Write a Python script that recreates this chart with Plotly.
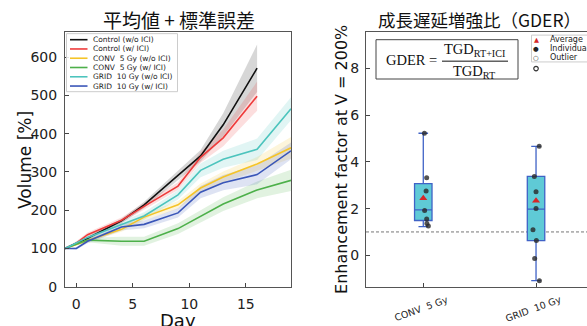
import plotly.graph_objects as go

W, H = 587, 326

# ---------------- data: left panel (mean volume + SE) ----------------
names = ["Control (w/o ICI)", "Control (w/ ICI)", "CONV  5 Gy (w/o ICI)",
         "CONV  5 Gy (w/ ICI)", "GRID  10 Gy (w/o ICI)", "GRID  10 Gy (w/ ICI)"]
colors = ["#111111", "#ee3b3b", "#f5c428", "#4db04a", "#4cc4bd", "#3a56b8"]

days_ctrl = [-1, 1, 4, 6, 9, 11, 13, 16]
vol_ctrl = [100, 127, 172, 214, 291, 342, 423, 571]
se_ctrl = [0, 4, 6, 8, 12, 15, 30, 62]

days_ctrl_ici = [-1, 0, 1, 4, 6, 9, 11, 13, 16]
vol_ctrl_ici = [100, 114, 136, 174, 210, 263, 338, 389, 498]
se_ctrl_ici = [0, 5, 6, 7, 8, 10, 14, 22, 38]

days_conv = [-1, 1, 4, 6, 9, 11, 13, 16, 19]
vol_conv = [100, 121, 150, 182, 214, 258, 287, 321, 363]
se_conv = [0, 4, 6, 8, 10, 12, 14, 18, 28]

days_conv_ici = [-1, 1, 4, 6, 9, 11, 13, 16, 19]
vol_conv_ici = [100, 122, 119, 119, 152, 185, 216, 253, 278]
se_conv_ici = [0, 6, 12, 12, 14, 16, 18, 22, 28]

days_grid = [-1, 1, 4, 6, 9, 11, 13, 16, 19]
vol_grid = [100, 129, 163, 185, 240, 304, 333, 359, 465]
se_grid = [0, 6, 8, 10, 12, 18, 22, 28, 30]

days_grid_ici = [-1, 0, 1, 4, 6, 9, 11, 13, 16, 19]
vol_grid_ici = [100, 100, 119, 156, 163, 193, 247, 272, 293, 355]
se_grid_ici = [0, 3, 5, 9, 10, 12, 16, 20, 25, 22]

left_x_ticks = [0, 5, 10, 15]
left_y_ticks = [0, 100, 200, 300, 400, 500, 600]

# ---------------- data: right panel (GDER box plot) ----------------
gder_cats = ["CONV  5 Gy", "GRID  10 Gy"]
conv_points = [5.23, 3.32, 2.75, 1.92, 1.56, 1.36, 1.26]
grid_points = [4.67, 3.38, 2.72, 2.00, 1.09, 0.63, -0.14, -1.09]
grid_outliers = [8.0]
box_q1 = [1.49, 0.63]
box_med = [1.95, 1.98]
box_q3 = [3.07, 3.38]
box_lo = [1.23, -1.09]
box_hi = [5.23, 4.67]
box_mean = [2.44, 2.34]
conv_jitter = [0.01, 0.03, 0.025, 0.012, 0.03, 0.032, 0.045]
grid_jitter = [0.028, -0.015, 0.0, 0.0, -0.027, 0.003, -0.012, 0.03]
right_y_ticks = [0, 2, 4, 6, 8]
ref_level = 1.0


def px(x):
    return x / W


def py(y):
    return 1 - y / H


series = [
    (days_ctrl, vol_ctrl, se_ctrl),
    (days_ctrl_ici, vol_ctrl_ici, se_ctrl_ici),
    (days_conv, vol_conv, se_conv),
    (days_conv_ici, vol_conv_ici, se_conv_ici),
    (days_grid, vol_grid, se_grid),
    (days_grid_ici, vol_grid_ici, se_grid_ici),
]


def rgba(hexc, a):
    h = hexc.lstrip("#")
    r, g, b = int(h[0:2], 16), int(h[2:4], 16), int(h[4:6], 16)
    return f"rgba({r},{g},{b},{a})"


fig = go.Figure()

# bands first
for (d, v, s), c in zip(series, colors):
    up = [a + b for a, b in zip(v, s)]
    lo = [a - b for a, b in zip(v, s)]
    fig.add_trace(go.Scatter(x=d + d[::-1], y=up + lo[::-1], mode="lines", fill="toself",
                             fillcolor=rgba(c, 0.17), line=dict(width=0),
                             hoverinfo="skip", showlegend=False,
                             xaxis="x", yaxis="y"))
for (d, v, s), c, n in zip(series, colors, names):
    fig.add_trace(go.Scatter(x=d, y=v, mode="lines", name=n,
                             line=dict(color=c, width=1.6),
                             showlegend=False, xaxis="x", yaxis="y"))

# right panel: boxes
box_fill = "#5fcad6"
box_line = "#3f62c6"
for i, cat in enumerate(gder_cats):
    fig.add_trace(go.Box(x=[i], q1=[box_q1[i]], median=[box_med[i]], q3=[box_q3[i]],
                         lowerfence=[box_lo[i]], upperfence=[box_hi[i]],
                         name=cat, width=0.155, whiskerwidth=0.55,
                         fillcolor=box_fill, line=dict(color=box_line, width=1.3),
                         boxpoints=False, showlegend=False,
                         xaxis="x2", yaxis="y2"))

pts_x = [0 + j for j in conv_jitter] + [1 + j for j in grid_jitter]
pts_y = conv_points + grid_points
fig.add_trace(go.Scatter(x=pts_x, y=pts_y, mode="markers",
                         marker=dict(color="rgba(40,40,40,0.8)", size=5),
                         showlegend=False, xaxis="x2", yaxis="y2"))
fig.add_trace(go.Scatter(x=[1] * len(grid_outliers), y=grid_outliers, mode="markers",
                         marker=dict(color="white", size=4.5,
                                     line=dict(color="#333", width=1.2)),
                         showlegend=False, xaxis="x2", yaxis="y2"))
fig.add_trace(go.Scatter(x=[0, 1], y=box_mean, mode="markers",
                         marker=dict(symbol="triangle-up", color="#d62728", size=7),
                         showlegend=False, xaxis="x2", yaxis="y2"))

axis_common = dict(showgrid=False, zeroline=False, ticks="inside", ticklen=4,
                   tickwidth=1, tickcolor="#444", showline=True, linecolor="#555",
                   linewidth=1, tickfont=dict(family="DejaVu Sans", size=14, color="#222"))

fig.update_layout(
    width=W, height=H, margin=dict(l=0, r=0, t=0, b=0),
    paper_bgcolor="white", plot_bgcolor="white",
    xaxis=dict(domain=[px(65), px(291)], range=[-1, 19], tickvals=left_x_ticks,
               mirror=True, anchor="y", ticklabelstandoff=4, **axis_common),
    yaxis=dict(domain=[py(294), py(33)], range=[0, 665], tickvals=left_y_ticks,
               mirror=True, anchor="x", ticklabelstandoff=4, **axis_common),
    xaxis2=dict(domain=[px(366), 1], range=[-0.508, 1.452], tickvals=[0, 1],
                showticklabels=False, mirror=True, anchor="y2", **axis_common),
    yaxis2=dict(domain=[py(294), py(33)], range=[-1.35, 9.56], tickvals=right_y_ticks,
                mirror=False, anchor="x2", ticklabelstandoff=3, **axis_common),
)

ann = []
shapes = []

# titles
ann.append(dict(text="平均値 + 標準誤差", x=px(179), y=py(20), xref="paper", yref="paper",
                showarrow=False, xanchor="center", yanchor="middle",
                font=dict(family="Noto Sans CJK JP", size=19, color="#111")))
ann.append(dict(text="成長遅延増強比（GDER）", x=px(479), y=py(20), xref="paper", yref="paper",
                showarrow=False, xanchor="center", yanchor="middle",
                font=dict(family="Noto Sans CJK JP", size=17.5, color="#111")))
# axis titles
ann.append(dict(text="Volume [%]", x=px(25), y=py(164), xref="paper", yref="paper",
                showarrow=False, textangle=-90, xanchor="center", yanchor="middle",
                font=dict(family="DejaVu Sans", size=17, color="#111")))
ann.append(dict(text="Day", x=px(178), y=py(329), xref="paper", yref="paper",
                showarrow=False, xanchor="center", yanchor="middle",
                font=dict(family="DejaVu Sans", size=18, color="#111")))
ann.append(dict(text="Enhancement factor at V = 200%", x=px(342), y=py(164),
                xref="paper", yref="paper", showarrow=False, textangle=-90,
                xanchor="center", yanchor="middle",
                font=dict(family="DejaVu Sans", size=16, color="#111")))
# category labels
for i, cat in enumerate(gder_cats):
    ann.append(dict(text=cat, x=i - 0.02, y=py(316), xref="x2", yref="paper",
                    showarrow=False, textangle=-20, xanchor="center", yanchor="middle",
                    font=dict(family="DejaVu Sans", size=9.5, color="#222")))

# reference dashed line
shapes.append(dict(type="line", xref="x2 domain", yref="y2", x0=0, x1=1,
                   y0=ref_level, y1=ref_level,
                   line=dict(color="#777", width=1, dash="3px,2px"), layer="below"))

# left legend
shapes.append(dict(type="rect", xref="paper", yref="paper",
                   x0=px(66.5), x1=px(177.5), y0=py(94), y1=py(34.5),
                   line=dict(color="#cccccc", width=1), fillcolor="rgba(255,255,255,0.85)",
                   layer="above"))
for k, (n, c) in enumerate(zip(names, colors)):
    yy = 40.7 + 9.5 * k
    shapes.append(dict(type="line", xref="paper", yref="paper",
                       x0=px(70), x1=px(87.5), y0=py(yy), y1=py(yy),
                       line=dict(color=c, width=1.6), layer="above"))
    ann.append(dict(text=n, x=px(90.5), y=py(yy), xref="paper", yref="paper",
                    showarrow=False, xanchor="left", yanchor="middle",
                    font=dict(family="DejaVu Sans", size=7.5, color="#222")))

# right legend
shapes.append(dict(type="rect", xref="paper", yref="paper",
                   x0=px(531.5), x1=px(595), y0=py(63.5), y1=py(36),
                   line=dict(color="#cccccc", width=1), fillcolor="white", layer="above"))
leg2 = [("▲", "#d62728", "Average"), ("●", "#222", "Individual"), ("○", "#222", "Outlier")]
for k, (sym, c, t) in enumerate(leg2):
    yy = 40.7 + 9.3 * k
    ann.append(dict(text=sym, x=px(536), y=py(yy), xref="paper", yref="paper",
                    showarrow=False, xanchor="center", yanchor="middle",
                    font=dict(family="DejaVu Sans", size=6.5, color=c)))
    ann.append(dict(text=t, x=px(548), y=py(yy), xref="paper", yref="paper",
                    showarrow=False, xanchor="left", yanchor="middle",
                    font=dict(family="DejaVu Sans", size=8, color="#222")))

# formula box
shapes.append(dict(type="rect", xref="paper", yref="paper",
                   x0=px(376), x1=px(518), y0=py(81), y1=py(40.7),
                   line=dict(color="#444", width=1), fillcolor="white", layer="above"))
serif = dict(family="Liberation Serif", size=14.5, color="#111")
ann.append(dict(text="GDER =", x=px(411), y=py(62), xref="paper", yref="paper",
                showarrow=False, xanchor="center", yanchor="middle", font=serif))
ann.append(dict(text="TGD<sub>RT+ICI</sub>", x=px(475), y=py(61.5), xref="paper",
                yref="paper", showarrow=False, xanchor="center", yanchor="bottom",
                borderpad=0, font=serif))
shapes.append(dict(type="line", xref="paper", yref="paper",
                   x0=px(442), x1=px(508), y0=py(62.7), y1=py(62.7),
                   line=dict(color="#111", width=1), layer="above"))
ann.append(dict(text="TGD<sub>RT</sub>", x=px(474), y=py(63.5), xref="paper",
                yref="paper", showarrow=False, xanchor="center", yanchor="top",
                borderpad=0, font=serif))

fig.update_layout(annotations=ann, shapes=shapes)
fig.write_html("out.html")
